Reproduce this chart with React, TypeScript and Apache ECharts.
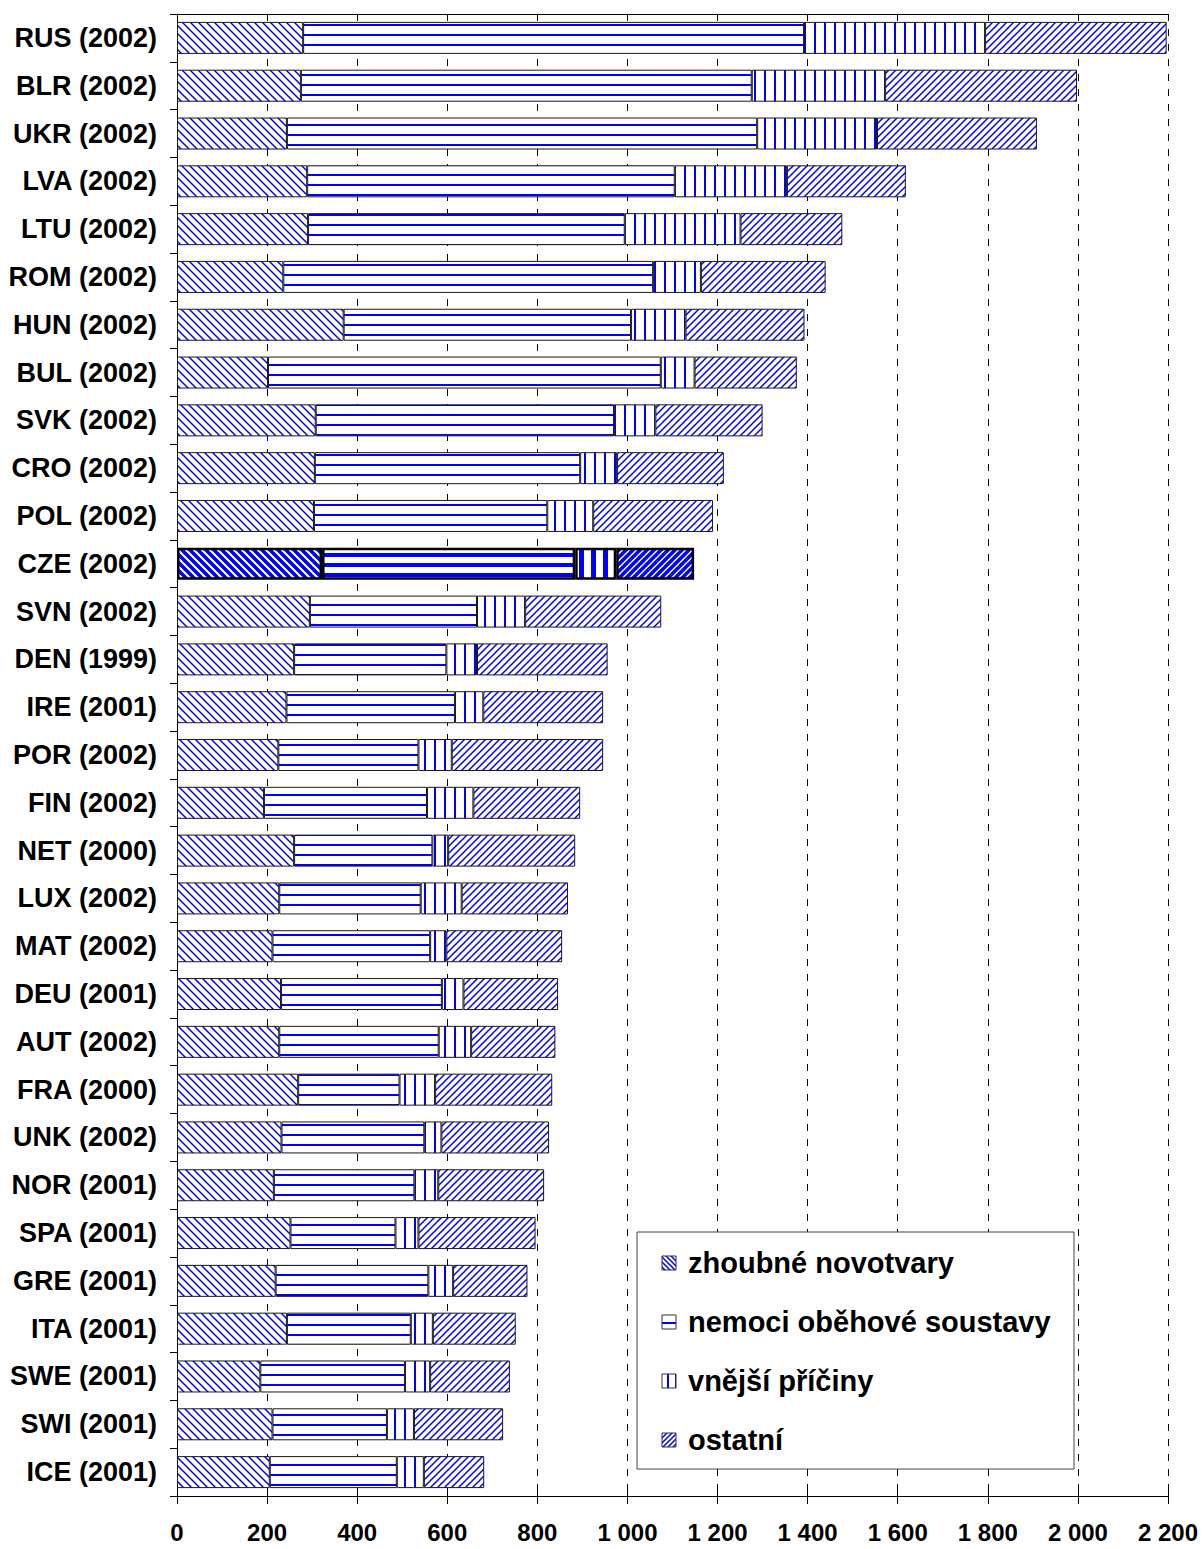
import React, { useEffect, useRef } from "react";
import * as echarts from "echarts";

const categories = [
  "RUS (2002)", "BLR (2002)", "UKR (2002)", "LVA (2002)", "LTU (2002)", "ROM (2002)",
  "HUN (2002)", "BUL (2002)", "SVK (2002)", "CRO (2002)", "POL (2002)", "CZE (2002)",
  "SVN (2002)", "DEN (1999)", "IRE (2001)", "POR (2002)", "FIN (2002)", "NET (2000)",
  "LUX (2002)", "MAT (2002)", "DEU (2001)", "AUT (2002)", "FRA (2000)", "UNK (2002)",
  "NOR (2001)", "SPA (2001)", "GRE (2001)", "ITA (2001)", "SWE (2001)", "SWI (2001)",
  "ICE (2001)",
];

const zhoubne = [280, 275, 244, 289, 291, 236, 370, 202, 308, 306, 304, 322, 295, 260, 243, 225, 193, 260, 227, 212, 231, 227, 269, 232, 215, 252, 219, 244, 185, 212, 206];
const obehove = [1112, 1001, 1044, 816, 703, 821, 638, 872, 662, 589, 518, 562, 371, 338, 374, 311, 362, 307, 314, 350, 357, 354, 225, 317, 312, 233, 339, 275, 321, 254, 282];
const vnejsi = [402, 296, 266, 249, 257, 106, 121, 75, 92, 82, 102, 91, 107, 68, 63, 74, 103, 35, 91, 36, 48, 72, 79, 38, 53, 51, 55, 49, 56, 60, 60];
const ostatni = [403, 426, 355, 264, 226, 277, 264, 227, 238, 237, 266, 173, 302, 290, 266, 336, 237, 282, 236, 257, 210, 187, 260, 239, 235, 260, 165, 184, 177, 198, 134];

const seriesNames = ["zhoubné novotvary", "nemoci oběhové soustavy", "vnější příčiny", "ostatní"];
const xTickLabels = ["0", "200", "400", "600", "800", "1 000", "1 200", "1 400", "1 600", "1 800", "2 000", "2 200"];
const highlighted = "CZE (2002)";

const FONT = '"Liberation Sans", Arial, sans-serif';
const BLUE = "#0000ff";

function makePattern(kind: string, lw: number, period: number) {
  const c = document.createElement("canvas");
  let w = period, h = period;
  if (kind === "horiz") { w = 4; h = period; }
  if (kind === "vert") { w = period; h = 4; }
  c.width = w; c.height = h;
  const ctx = c.getContext("2d")!;
  ctx.fillStyle = "#ffffff";
  ctx.fillRect(0, 0, w, h);
  ctx.strokeStyle = BLUE;
  ctx.fillStyle = BLUE;
  ctx.lineWidth = lw;
  if (kind === "down") {
    for (const k of [-period, 0, period]) {
      ctx.beginPath();
      ctx.moveTo(k - 1, -1);
      ctx.lineTo(k + period + 1, period + 1);
      ctx.stroke();
    }
  } else if (kind === "up") {
    for (const k of [-period, 0, period]) {
      ctx.beginPath();
      ctx.moveTo(k - 1, period + 1);
      ctx.lineTo(k + period + 1, -1);
      ctx.stroke();
    }
  } else if (kind === "horiz") {
    ctx.fillRect(0, Math.floor((h - lw) / 2), w, lw);
  } else if (kind === "vert") {
    ctx.fillRect(Math.floor((w - lw) / 2), 0, lw, h);
  }
  return { image: c, repeat: "repeat", imageWidth: w, imageHeight: h } as any;
}

export default function App() {
  const ref = useRef<HTMLDivElement>(null);

  useEffect(() => {
    if (!ref.current) return;
    const chart = echarts.init(ref.current, null, { renderer: "svg" });

    const normal = [
      makePattern("down", 1.5, 8),
      makePattern("horiz", 2, 10),
      makePattern("vert", 2, 10),
      makePattern("up", 1.5, 7),
    ];
    const bold = [
      makePattern("down", 3.5, 8),
      makePattern("horiz", 4, 10),
      makePattern("vert", 5, 12),
      makePattern("up", 3.5, 7),
    ];
    const iconPat = [
      makePattern("down", 1.5, 5),
      makePattern("horiz", 2, 14),
      makePattern("vert", 2, 8),
      makePattern("up", 1.5, 5),
    ];

    const values = [zhoubne, obehove, vnejsi, ostatni];

    const series = values.map((arr, si) => ({
      name: seriesNames[si],
      type: "bar",
      stack: "total",
      barWidth: 32,
      xAxisIndex: 0,
      yAxisIndex: 0,
      itemStyle: { color: normal[si], borderColor: "#1a1a1a", borderWidth: 1 },
      emphasis: { disabled: true },
      data: arr.map((v, i) =>
        categories[i] === highlighted
          ? { value: v, itemStyle: { color: bold[si], borderColor: "#000", borderWidth: 2.5 } }
          : v
      ),
    }));

    const legendX = 637, legendY = 1232, legendW = 437, legendH = 237;
    const legendItems: any[] = [];
    seriesNames.forEach((name, i) => {
      const cy = 1263 + i * 59;
      legendItems.push({
        type: "rect",
        z: 101,
        shape: { x: 662, y: cy - 7, width: 14, height: 14 },
        style: { fill: iconPat[i], stroke: "#333", lineWidth: 1 },
      });
      legendItems.push({
        type: "text",
        z: 101,
        x: 688,
        y: cy,
        style: {
          text: name,
          font: `bold 29px ${FONT}`,
          fill: "#000",
          verticalAlign: "middle",
          align: "left",
        },
      });
    });

    const xCommon = {
      type: "value",
      min: 0,
      max: 2200,
      interval: 200,
    };

    chart.setOption({
      animation: false,
      backgroundColor: "#ffffff",
      grid: { left: 177, right: 36, top: 14, bottom: 53, containLabel: false },
      xAxis: [
        {
          ...xCommon,
          position: "bottom",
          axisLine: { show: true, lineStyle: { color: "#000", width: 1 } },
          axisTick: { show: true, length: 8, inside: false, lineStyle: { color: "#000" } },
          axisLabel: {
            fontFamily: FONT,
            fontWeight: "bold",
            fontSize: 24,
            color: "#000",
            margin: 24,
            formatter: (v: number) => xTickLabels[Math.round(v / 200)] ?? "",
          },
          splitLine: { show: true, lineStyle: { color: "#000", width: 1, type: [7, 8] } },
        },
        {
          ...xCommon,
          position: "bottom",
          axisLine: { show: false },
          axisTick: { show: true, length: 8, inside: true, lineStyle: { color: "#000" } },
          axisLabel: { show: false },
          splitLine: { show: false },
        },
        {
          ...xCommon,
          position: "top",
          axisLine: { show: true, lineStyle: { color: "#000", width: 1 } },
          axisTick: { show: false },
          axisLabel: { show: false },
          splitLine: { show: false },
        },
      ],
      yAxis: {
        type: "category",
        inverse: true,
        data: categories,
        axisLine: { show: true, lineStyle: { color: "#000", width: 1 } },
        axisTick: { show: true, length: 7, lineStyle: { color: "#000" } },
        axisLabel: {
          fontFamily: FONT,
          fontWeight: "bold",
          fontSize: 27,
          color: "#000",
          margin: 20,
        },
        splitLine: { show: false },
      },
      series,
      graphic: [
        {
          type: "rect",
          z: 100,
          shape: { x: legendX, y: legendY, width: legendW, height: legendH },
          style: { fill: "#ffffff", stroke: "#444", lineWidth: 1 },
        },
        ...legendItems,
      ],
    } as any);

    return () => chart.dispose();
  }, []);

  return (
    <div
      ref={ref}
      style={{ position: "absolute", left: 0, top: 0, width: 1204, height: 1549, background: "#fff" }}
    />
  );
}
